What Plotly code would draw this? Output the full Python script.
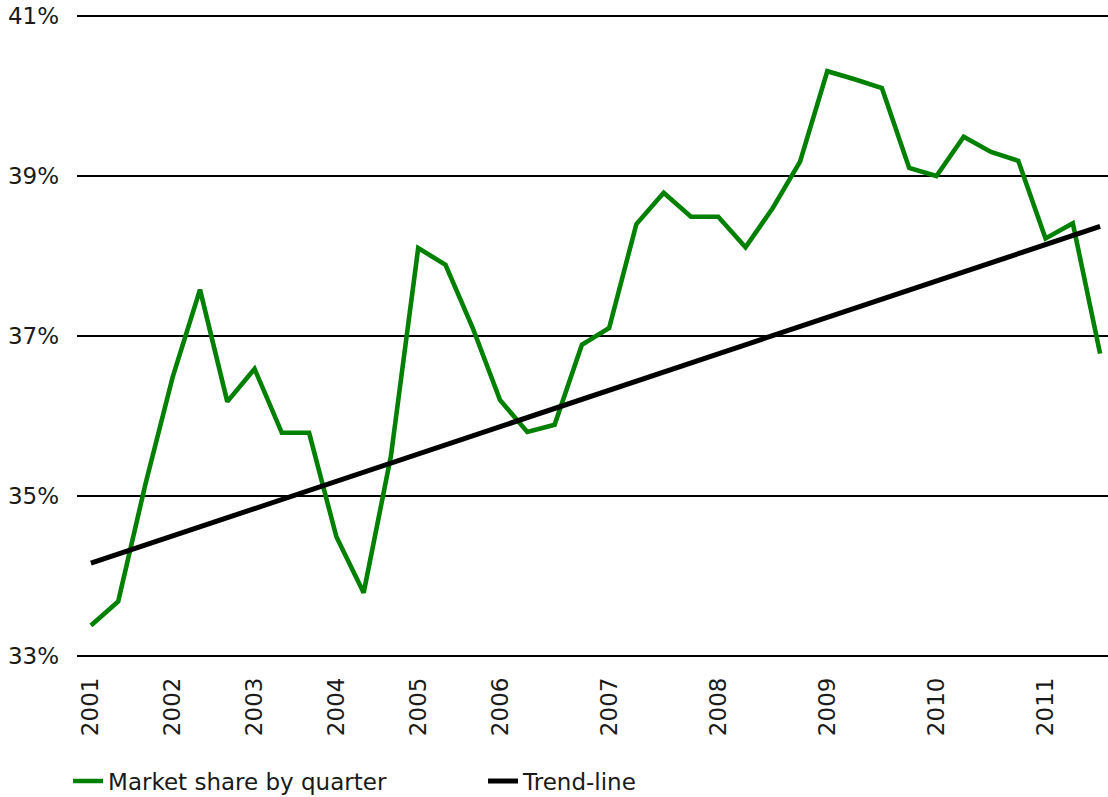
import plotly.graph_objects as go

# Quarterly market share (%)
share = [33.38, 33.68, 35.15, 36.49, 37.58, 36.18, 36.59, 35.79, 35.79, 34.49,
         33.79, 35.50, 38.10, 37.89, 37.10, 36.20, 35.80, 35.89, 36.89, 37.10,
         38.40, 38.79, 38.49, 38.49, 38.11, 38.60, 39.18, 40.31, 40.21, 40.10,
         39.10, 39.00, 39.49, 39.30, 39.19, 38.22, 38.41, 36.78]
idx = list(range(len(share)))

# Trend-line end values (%)
trend_vals = [34.16, 38.37]
trend_idx = [idx[0], idx[-1]]

# Year labels and the quarter index they sit at
year_labels = ["2001", "2002", "2003", "2004", "2005", "2006",
               "2007", "2008", "2009", "2010", "2011"]
year_pos = [0, 3, 6, 9, 12, 15, 19, 23, 27, 31, 35]

y_ticks = [33, 35, 37, 39, 41]
y_labels = ["33%", "35%", "37%", "39%", "41%"]

FONT = "DejaVu Sans"
TXT = "#1a1a1a"
FS = 23

fig = go.Figure()
fig.add_trace(go.Scatter(
    x=idx, y=share, mode="lines", name="Market share by quarter",
    line=dict(color="#008000", width=4.6), hoverinfo="skip"))
fig.add_trace(go.Scatter(
    x=trend_idx, y=trend_vals, mode="lines", name="Trend-line",
    line=dict(color="#000000", width=5), hoverinfo="skip"))

fig.update_layout(
    width=1108, height=797,
    margin=dict(l=77, r=0, t=8, b=133),
    paper_bgcolor="white", plot_bgcolor="white",
    font=dict(family=FONT, size=FS, color=TXT),
    showlegend=True,
    legend=dict(orientation="h", xref="container", yref="container",
                x=0.0614, y=0.020, xanchor="left", yanchor="middle",
                font=dict(family=FONT, size=FS, color=TXT),
                entrywidth=370, entrywidthmode="pixels",
                bgcolor="rgba(0,0,0,0)"),
)
fig.update_xaxes(
    range=[-0.51, 37.29], tickmode="array", tickvals=year_pos,
    ticktext=year_labels, tickangle=-90, showgrid=False, zeroline=False,
    showline=False, ticks="", ticklabelstandoff=8, automargin=False,
    tickfont=dict(family=FONT, size=FS, color=TXT))
fig.update_yaxes(
    range=[32.9, 41.1], tickmode="array", tickvals=y_ticks,
    ticktext=y_labels, automargin=False,
    showgrid=True, gridcolor="#000000", gridwidth=2, zeroline=False,
    showline=False, ticks="", ticklabelstandoff=17,
    tickfont=dict(family=FONT, size=FS, color=TXT))

fig.write_html(
    "out.html",
    config={"displayModeBar": False, "staticPlot": True},
    post_script="document.body.style.margin='0px';document.body.style.padding='0px';")
